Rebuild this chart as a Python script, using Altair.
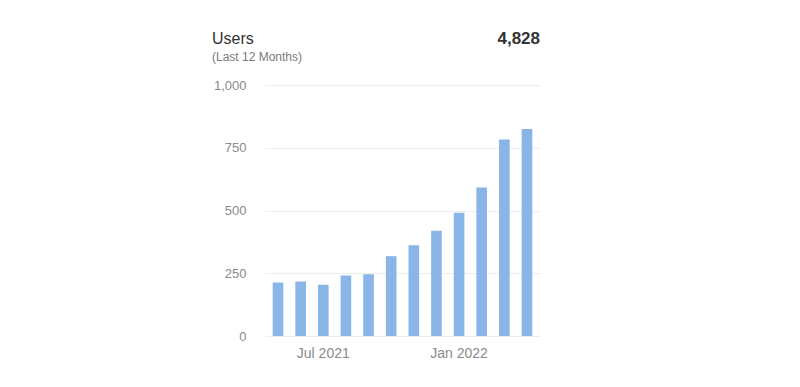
import altair as alt
import pandas as pd

months = ["May 2021", "Jun 2021", "Jul 2021", "Aug 2021", "Sep 2021", "Oct 2021",
          "Nov 2021", "Dec 2021", "Jan 2022", "Feb 2022", "Mar 2022", "Apr 2022"]
users = [213, 217, 204, 241, 246, 318, 362, 419, 491, 592, 783, 825]
shown_labels = ["Jul 2021", "Jan 2022"]
title_text = "Users"
subtitle_text = "(Last 12 Months)"
total_label = "4,828"

df = pd.DataFrame({"month": months, "users": users})

FONT = "Liberation Sans"

bars = alt.Chart(df).mark_bar(color="#8AB5E8").encode(
    x=alt.X("month:N", sort=months,
            scale=alt.Scale(paddingInner=0.53, paddingOuter=0.34),
            axis=alt.Axis(title=None, ticks=False, domain=False, grid=False, labelAngle=0,
                          labelExpr="indexof(['" + "','".join(shown_labels) + "'], datum.value) >= 0 ? datum.value : ''",
                          labelColor="#8a8a8a", labelFontSize=14, labelFont=FONT, labelPadding=10)),
    y=alt.Y("users:Q", scale=alt.Scale(domain=[0, 1000]),
            axis=alt.Axis(title=None, values=[0, 250, 500, 750, 1000], format=",d", ticks=False,
                          domain=False, gridColor="#ededed", labelColor="#8a8a8a",
                          labelFontSize=13, labelFont=FONT, labelPadding=19)),
)

total = alt.Chart(pd.DataFrame({"t": [total_label]})).mark_text(
    align="right", baseline="alphabetic", font=FONT, fontSize=17, fontWeight="bold", color="#333333"
).encode(text="t:N", x=alt.value(275), y=alt.value(-41))

title = alt.Chart(pd.DataFrame({"t": [title_text]})).mark_text(
    align="left", baseline="alphabetic", font=FONT, fontSize=16, color="#333333"
).encode(text="t:N", x=alt.value(-53), y=alt.value(-41))

subtitle = alt.Chart(pd.DataFrame({"t": [subtitle_text]})).mark_text(
    align="left", baseline="alphabetic", font=FONT, fontSize=12, color="#7a7a7a"
).encode(text="t:N", x=alt.value(-53), y=alt.value(-24))

chart = alt.layer(bars, total, title, subtitle).properties(
    width=275, height=251,
    background="white",
    padding={"left": 204, "top": 22, "right": 10, "bottom": 10},
).configure_view(strokeWidth=0, stroke="transparent")

chart.save("out.html", embed_options={"renderer": "svg", "actions": False})
